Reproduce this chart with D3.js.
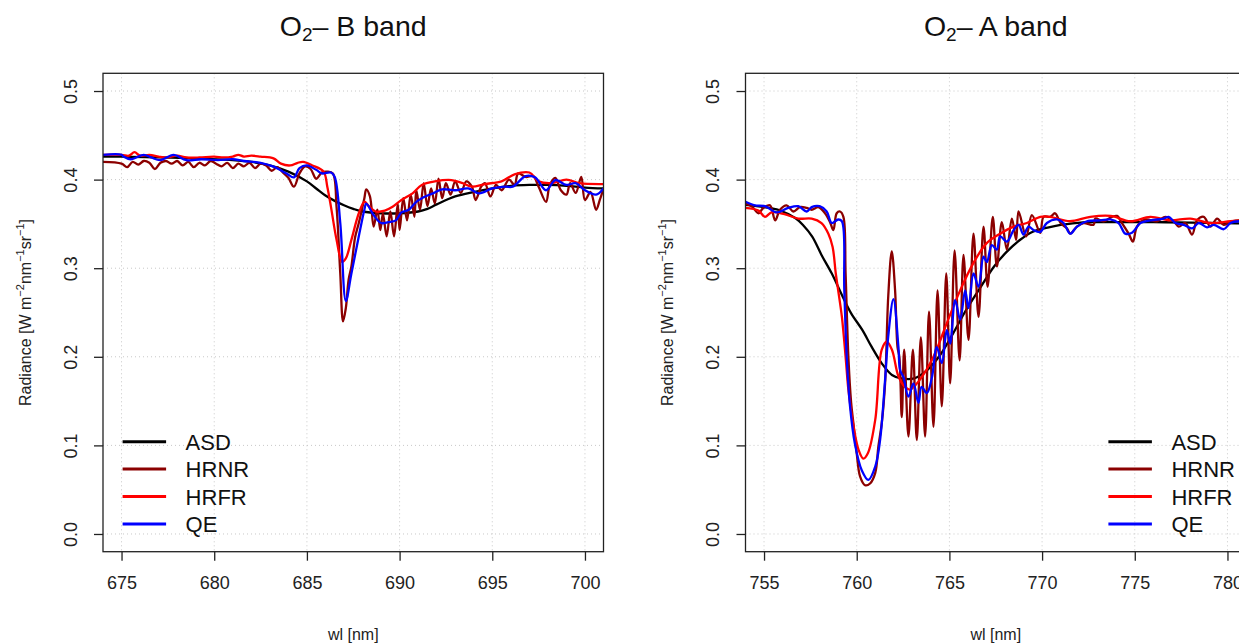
<!DOCTYPE html>
<html>
<head>
<meta charset="utf-8">
<script src="https://cdn.jsdelivr.net/npm/d3@7"></script>
<style>
  body { margin: 0; background: #fff; }
  svg { font-family: "Liberation Sans", Arial, sans-serif; }
</style>
</head>
<body>
<svg id="chart"></svg>
<script>
// series names + colours
const seriesNames = ["ASD", "HRNR", "HRFR", "QE"];
const seriesColors = ["#000000", "#8B0000", "#FF0000", "#0000FF"];

const xTicksB = [675, 680, 685, 690, 695, 700];
const xTicksA = [755, 760, 765, 770, 775, 780];
const yTicks = [0, 0.1, 0.2, 0.3, 0.4, 0.5];

// O2-B band, [wl, radiance]
const asdB = [[674,0.426],[675,0.426],[677,0.425],[679,0.424],[681,0.422],[682,0.420],[683,0.416],[684,0.409],[685,0.398],[685.5,0.390],[686,0.382],[686.5,0.376],[687,0.371],[687.5,0.367],[688,0.364],[689,0.362],[690,0.362],[691,0.364],[691.5,0.367],[692,0.372],[693,0.381],[694,0.386],[695,0.390],[696,0.393],[697,0.394],[698,0.394],[699,0.393],[700,0.391],[701,0.390]];
const hrnrB = [[674,0.420],[675.0,0.418],[675.3,0.414],[675.6,0.420],[675.9,0.417],[676.2,0.421],[676.5,0.419],[676.8,0.412],[677.1,0.419],[677.4,0.421],[677.7,0.418],[678.0,0.421],[678.3,0.416],[678.6,0.420],[678.9,0.414],[679.2,0.419],[679.5,0.416],[679.8,0.421],[680.1,0.418],[680.4,0.415],[680.7,0.419],[681.0,0.413],[681.3,0.418],[681.6,0.415],[681.9,0.419],[682.2,0.413],[682.5,0.418],[682.8,0.416],[683.1,0.410],[683.4,0.414],[683.7,0.408],[684.0,0.402],[684.3,0.392],[684.6,0.407],[684.9,0.415],[685.2,0.412],[685.5,0.401],[685.8,0.408],[686.1,0.409],[686.4,0.407],[686.6,0.369],[686.8,0.294],[686.95,0.240],[687.1,0.255],[687.25,0.287],[687.4,0.302],[687.6,0.335],[687.8,0.351],[688.1,0.379],[688.2,0.389],[688.4,0.381],[688.6,0.347],[688.8,0.366],[688.96,0.343],[689.1,0.362],[689.3,0.336],[689.5,0.364],[689.7,0.336],[689.9,0.373],[690.0,0.343],[690.2,0.379],[690.4,0.354],[690.6,0.383],[690.8,0.358],[690.9,0.388],[691.1,0.366],[691.3,0.396],[691.5,0.370],[691.7,0.390],[691.9,0.373],[692.1,0.401],[692.3,0.379],[692.5,0.396],[692.75,0.383],[693.0,0.398],[693.3,0.385],[693.6,0.398],[693.9,0.392],[694.1,0.377],[694.4,0.392],[694.6,0.396],[694.9,0.381],[695.2,0.394],[695.5,0.388],[695.9,0.400],[696.2,0.394],[696.4,0.407],[696.8,0.403],[697.2,0.404],[697.5,0.392],[697.9,0.375],[698.1,0.394],[698.4,0.402],[698.7,0.388],[699.0,0.383],[699.2,0.396],[699.5,0.385],[699.8,0.403],[700.0,0.377],[700.3,0.386],[700.6,0.366],[700.8,0.377],[701.0,0.390]];
const hrfrB = [[674,0.428],[675.0,0.428],[675.4,0.427],[675.7,0.431],[676.0,0.427],[676.5,0.428],[677.0,0.426],[677.4,0.425],[678.0,0.427],[678.5,0.425],[679.2,0.425],[680.0,0.426],[680.5,0.425],[681.0,0.426],[681.3,0.428],[681.6,0.426],[682.0,0.427],[682.5,0.426],[683.2,0.424],[683.6,0.418],[684.1,0.416],[684.5,0.419],[684.8,0.420],[685.3,0.416],[685.9,0.409],[686.1,0.392],[686.3,0.369],[686.6,0.332],[686.9,0.307],[687.1,0.311],[687.4,0.332],[687.8,0.362],[688.1,0.375],[688.3,0.371],[688.7,0.364],[689.2,0.365],[689.6,0.369],[690.1,0.377],[690.7,0.3845],[691.2,0.394],[691.9,0.398],[692.8,0.3995],[693.4,0.396],[693.9,0.392],[694.6,0.395],[695.5,0.398],[696.2,0.406],[697.0,0.408],[697.5,0.398],[698.2,0.396],[699.0,0.400],[699.7,0.396],[701.0,0.395]];
const qeB = [[674,0.428],[675.0,0.428],[675.1,0.426],[675.5,0.423],[676.2,0.428],[676.6,0.425],[677.1,0.422],[677.8,0.428],[678.5,0.422],[679.3,0.423],[680.2,0.422],[681.0,0.423],[681.6,0.421],[682.5,0.419],[683.2,0.4146],[683.9,0.407],[684.3,0.4026],[684.6,0.413],[685.0,0.416],[685.5,0.411],[685.8,0.407],[686.3,0.408],[686.5,0.403],[686.8,0.351],[687.1,0.263],[687.4,0.294],[687.8,0.336],[688.1,0.366],[688.2,0.373],[688.6,0.360],[689.0,0.351],[689.4,0.352],[689.8,0.354],[690.1,0.363],[690.5,0.366],[690.9,0.375],[691.2,0.379],[691.8,0.3845],[692.3,0.389],[693.0,0.388],[693.7,0.390],[694.3,0.3845],[695.0,0.390],[695.7,0.392],[696.1,0.392],[696.8,0.404],[697.3,0.4026],[697.9,0.388],[698.4,0.3995],[699.0,0.394],[699.5,0.396],[700.0,0.388],[700.6,0.383],[701.0,0.390]];

// O2-A band, [wl, radiance]
const asdA = [[754,0.3715],[755,0.369],[755.8,0.3657],[756.7,0.3563],[757.1,0.3488],[757.6,0.3356],[758.1,0.315],[758.65,0.2942],[759.2,0.2698],[759.7,0.249],[760.3,0.2303],[760.8,0.2114],[761.35,0.1926],[761.9,0.1795],[762.4,0.1757],[763.1,0.1757],[763.8,0.185],[764.5,0.202],[765.2,0.2265],[765.9,0.2528],[766.7,0.2792],[767.4,0.3017],[768.1,0.3187],[768.8,0.3318],[769.5,0.3412],[770.3,0.3458],[771.0,0.3488],[772.2,0.3518],[774,0.352],[776,0.352],[778,0.3515],[780.5,0.3507],[781,0.3505]];
const hrnrA = [[754.0,0.373],[754.33,0.370],[754.7,0.362],[754.96,0.368],[755.32,0.371],[755.6,0.354],[755.86,0.366],[756.22,0.371],[756.58,0.364],[756.94,0.369],[757.3,0.368],[757.57,0.366],[757.93,0.369],[758.29,0.362],[758.56,0.352],[758.74,0.343],[758.92,0.362],[759.1,0.364],[759.28,0.358],[759.4,0.294],[759.55,0.200],[759.7,0.148],[759.82,0.125],[760.0,0.091],[760.18,0.065],[760.45,0.055],[760.72,0.057],[761.0,0.069],[761.17,0.099],[761.35,0.125],[761.53,0.170],[761.7,0.268],[761.89,0.319],[762.07,0.275],[762.2,0.211],[762.3,0.200],[762.43,0.132],[762.56,0.208],[762.79,0.110],[763.03,0.208],[763.24,0.106],[763.46,0.222],[763.69,0.110],[763.9,0.251],[764.14,0.121],[764.36,0.275],[764.59,0.144],[764.83,0.294],[765.04,0.170],[765.28,0.320],[765.55,0.196],[765.76,0.315],[766.03,0.219],[766.3,0.339],[766.57,0.245],[766.84,0.347],[767.06,0.279],[767.34,0.358],[767.56,0.302],[767.83,0.352],[768.1,0.321],[768.37,0.356],[768.6,0.332],[768.73,0.364],[769.14,0.336],[769.45,0.360],[769.9,0.340],[770.08,0.358],[770.44,0.358],[770.7,0.362],[771.0,0.351],[771.34,0.345],[771.52,0.339],[771.88,0.347],[772.24,0.351],[772.78,0.349],[772.87,0.356],[773.32,0.353],[773.77,0.358],[774.04,0.359],[774.31,0.351],[774.67,0.339],[774.9,0.330],[775.12,0.347],[775.57,0.355],[776.2,0.353],[776.65,0.358],[777.1,0.353],[777.37,0.347],[777.73,0.351],[778.09,0.338],[778.36,0.354],[778.72,0.358],[779.08,0.347],[779.44,0.356],[779.8,0.349],[780.25,0.353],[780.65,0.354],[781.0,0.352]];
const hrfrA = [[754.0,0.368],[754.7,0.365],[755.05,0.358],[755.4,0.363],[756.1,0.361],[756.85,0.356],[757.57,0.356],[758.1,0.351],[758.47,0.339],[758.7,0.324],[758.87,0.294],[759.0,0.275],[759.2,0.245],[759.4,0.200],[759.55,0.163],[759.8,0.125],[760.1,0.095],[760.36,0.085],[760.6,0.091],[761.0,0.129],[761.35,0.208],[761.62,0.217],[761.9,0.208],[762.25,0.178],[762.6,0.166],[762.88,0.163],[763.4,0.174],[764.14,0.200],[764.86,0.238],[765.58,0.275],[766.3,0.306],[767.0,0.328],[767.74,0.339],[768.46,0.347],[769.18,0.351],[769.9,0.358],[770.44,0.358],[771.5,0.353],[772.6,0.358],[773.7,0.359],[774.76,0.353],[775.84,0.358],[776.92,0.354],[778.0,0.356],[779.08,0.351],[780.16,0.353],[781.0,0.354]];
const qeA = [[754.0,0.375],[754.5,0.371],[755.05,0.370],[755.68,0.363],[756.3,0.368],[756.85,0.370],[757.3,0.364],[757.57,0.369],[758.0,0.370],[758.38,0.364],[758.65,0.351],[759.0,0.355],[759.2,0.353],[759.33,0.275],[759.46,0.200],[759.64,0.144],[759.9,0.102],[760.27,0.072],[760.63,0.061],[761.0,0.076],[761.26,0.106],[761.53,0.174],[761.7,0.223],[761.98,0.265],[762.25,0.211],[762.34,0.185],[762.52,0.177],[762.79,0.155],[763.06,0.170],[763.33,0.148],[763.5,0.166],[763.78,0.159],[764.05,0.176],[764.32,0.211],[764.59,0.193],[764.86,0.230],[765.04,0.215],[765.31,0.264],[765.58,0.242],[765.85,0.275],[766.03,0.255],[766.3,0.294],[766.57,0.279],[766.84,0.313],[767.02,0.307],[767.29,0.326],[767.56,0.321],[767.74,0.336],[768.1,0.330],[768.46,0.343],[768.73,0.349],[769.0,0.338],[769.27,0.347],[769.54,0.343],[769.9,0.341],[770.26,0.351],[770.8,0.355],[771.16,0.351],[771.52,0.339],[771.88,0.347],[772.42,0.353],[773.14,0.354],[773.68,0.355],[774.13,0.351],[774.49,0.339],[774.85,0.340],[775.3,0.351],[775.84,0.354],[776.56,0.356],[776.83,0.358],[777.19,0.351],[777.64,0.349],[778.09,0.345],[778.45,0.351],[778.9,0.346],[779.26,0.349],[779.8,0.344],[780.16,0.351],[780.65,0.353],[781.0,0.352]];

const width = 1239, height = 643;
const svg = d3.select("#chart").attr("width", width).attr("height", height);

const panels = [
  {band: "B", series: [asdB, hrnrB, hrfrB, qeB], xlim: [674, 701], left: 103, ticks: xTicksB, legendX: 122.6},
  {band: "A", series: [asdA, hrnrA, hrfrA, qeA], xlim: [754, 781], left: 745.5, ticks: xTicksA, legendX: 1108.4}
];
const plotW = 500.5, plotTop = 73.3, plotBottom = 551.7;

const yScale = d3.scaleLinear().domain([-0.02, 0.52]).range([plotBottom, plotTop]);

panels.forEach(function(p, i) {
  const xScale = d3.scaleLinear().domain(p.xlim).range([p.left, p.left + plotW]);
  const g = svg.append("g");

  // clip for the lines
  g.append("clipPath").attr("id", "clip" + i)
    .append("rect")
    .attr("x", p.left).attr("y", plotTop)
    .attr("width", plotW).attr("height", plotBottom - plotTop);

  // grid
  g.selectAll(".vgrid").data(p.ticks).enter().append("line")
    .attr("x1", d => xScale(d)).attr("x2", d => xScale(d))
    .attr("y1", plotTop).attr("y2", plotBottom)
    .attr("stroke", "#c8c8c8").attr("stroke-dasharray", "1,3");
  g.selectAll(".hgrid").data(yTicks).enter().append("line")
    .attr("x1", p.left).attr("x2", p.left + plotW)
    .attr("y1", d => yScale(d)).attr("y2", d => yScale(d))
    .attr("stroke", "#c8c8c8").attr("stroke-dasharray", "1,3");

  // lines
  const line = d3.line()
    .x(d => xScale(d[0])).y(d => yScale(d[1]))
    .curve(d3.curveCatmullRom.alpha(0.5));
  p.series.forEach(function(s, k) {
    g.append("path")
      .datum(s)
      .attr("d", line)
      .attr("clip-path", "url(#clip" + i + ")")
      .attr("fill", "none")
      .attr("stroke", seriesColors[k])
      .attr("stroke-width", 2.3)
      .attr("stroke-linejoin", "round");
  });

  // box
  g.append("rect")
    .attr("x", p.left).attr("y", plotTop)
    .attr("width", plotW).attr("height", plotBottom - plotTop)
    .attr("fill", "none").attr("stroke", "#222").attr("stroke-width", 1.3);

  // x axis
  const xAxis = g.append("g")
    .attr("transform", `translate(0, ${plotBottom})`)
    .call(d3.axisBottom(xScale).tickValues(p.ticks).tickSize(9).tickSizeOuter(0).tickPadding(16));
  xAxis.select(".domain").remove();
  xAxis.selectAll("line").attr("stroke", "#222").attr("stroke-width", 1.3);
  xAxis.selectAll("text").attr("font-size", 18).attr("font-family", "Liberation Sans, Arial, sans-serif").attr("fill", "#222");

  // y axis with rotated labels
  const yAxis = g.append("g")
    .attr("transform", `translate(${p.left}, 0)`)
    .call(d3.axisLeft(yScale).tickValues(yTicks).tickFormat(d3.format(".1f")).tickSize(9).tickSizeOuter(0));
  yAxis.select(".domain").remove();
  yAxis.selectAll("line").attr("stroke", "#222").attr("stroke-width", 1.3);
  yAxis.selectAll("text")
    .attr("font-size", 18).attr("font-family", "Liberation Sans, Arial, sans-serif").attr("fill", "#222")
    .attr("x", null).attr("dy", null)
    .attr("text-anchor", "middle")
    .attr("transform", "translate(-26.5, 0) rotate(-90)");

  // title
  const cx = p.left + plotW / 2;
  const title = g.append("text")
    .attr("x", cx).attr("y", 35.5)
    .attr("text-anchor", "middle")
    .attr("font-size", 28.5).attr("fill", "#111");
  title.append("tspan").text("O");
  title.append("tspan").attr("font-size", 19).attr("dy", 5).text("2");
  title.append("tspan").attr("dy", -5).text("\u2013 " + p.band + " band");

  // x label
  g.append("text")
    .attr("x", cx).attr("y", 639.5)
    .attr("text-anchor", "middle")
    .attr("font-size", 16).attr("fill", "#222")
    .text("wl [nm]");

  // y label
  const yl = g.append("text")
    .attr("transform", `translate(${p.left - 72.5}, ${(plotTop + plotBottom) / 2}) rotate(-90)`)
    .attr("text-anchor", "middle")
    .attr("font-size", 16).attr("fill", "#222");
  yl.append("tspan").text("Radiance [W m");
  yl.append("tspan").attr("font-size", 11).attr("dy", -7).text("\u22122");
  yl.append("tspan").attr("dy", 7).text("nm");
  yl.append("tspan").attr("font-size", 11).attr("dy", -7).text("\u22121");
  yl.append("tspan").attr("dy", 7).text("sr");
  yl.append("tspan").attr("font-size", 11).attr("dy", -7).text("\u22121");
  yl.append("tspan").attr("dy", 7).text("]");

  // legend
  const legend = g.selectAll(".legend").data(seriesNames).enter().append("g")
    .attr("transform", (d, k) => `translate(${p.legendX}, ${441.7 + k * 27.4})`);
  legend.append("line")
    .attr("x1", 0).attr("x2", 43.5).attr("y1", 0).attr("y2", 0)
    .attr("stroke", (d, k) => seriesColors[k]).attr("stroke-width", 3);
  legend.append("text")
    .attr("x", 63).attr("y", 8)
    .attr("font-size", 22).attr("fill", "#111")
    .text(d => d);
});
</script>
</body>
</html>
